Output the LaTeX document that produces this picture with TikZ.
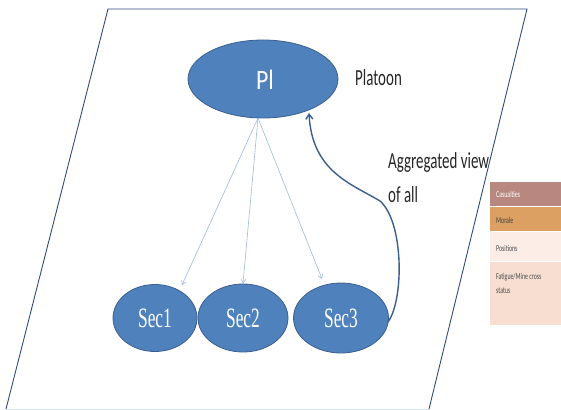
\documentclass[tikz,border=0pt]{standalone}
\usepackage{fontspec}
\setmainfont{Carlito}
\newfontfamily\condsans[FakeStretch=0.65]{Carlito}
\newfontfamily\plsans[FakeStretch=0.85]{Carlito}
\newfontfamily\condserif[FakeStretch=0.62]{Liberation Serif}
\usetikzlibrary{arrows.meta,shapes.geometric}
\definecolor{ellblue}{HTML}{4F81BD}
\definecolor{ellline}{HTML}{3A5F8E}
\definecolor{frameline}{HTML}{2F4B7C}
\definecolor{thin}{HTML}{9DB8DA}
\definecolor{cas}{HTML}{B8877F}
\definecolor{mor}{HTML}{DDA063}
\definecolor{pos}{HTML}{FCEEE6}
\definecolor{fat}{HTML}{F7DED1}
\begin{document}
\begin{tikzpicture}[x=1pt,y=-1pt,
  ell/.style={ellipse, fill=ellblue, draw=ellline, line width=0.8pt, text=white, inner sep=0pt},
  secfont/.style={font=\condserif\fontsize{28}{30}\selectfont},
  thinarrow/.style={draw=thin, line width=0.6pt, -{Straight Barb[length=4pt,width=5pt]}},
  lbl/.style={font=\condsans\fontsize{23}{34}\selectfont, text=black!85, anchor=base west, align=left, inner sep=0pt},
  legbox/.style={minimum width=71pt, anchor=north west, inner sep=0pt},
  legtext/.style={font=\condsans\fontsize{9}{14}\selectfont, anchor=base west, align=left, inner sep=0pt}
]
\useasboundingbox (0,0) rectangle (561,409);
% frame parallelogram
\coordinate (tl) at (108,9);
\coordinate (tr) at (527,9);
\coordinate (br) at (429,409);
\coordinate (bl) at (6,409);
\draw[frameline, line width=0.9pt] (bl) -- (tl) -- (tr) -- (br);
\draw[thin!40, line width=0.6pt] (bl) -- (br);
% nodes
\node[ell, minimum width=150pt, minimum height=78pt] (pl) at (263,79) {};
\node[font=\plsans\fontsize{28}{30}\selectfont, text=white, inner sep=0pt] (pltext) at (265,80) {Pl};
\node[ell, minimum width=84pt, minimum height=67pt, secfont] (s1) at (155,318) {Sec1};
\node[ell, minimum width=90pt, minimum height=68pt, secfont] (s2) at (243,318) {Sec2};
\node[ell, minimum width=95pt, minimum height=70pt, secfont] (s3) at (341,318) {Sec3};
% thin arrows
\coordinate (o) at (258,118);
\coordinate (t3) at (322,279);
\draw[thinarrow] (o) -- (182,285);
\draw[thinarrow] (o) -- (s2.north);
\draw[thinarrow] (o) -- (t3);
% curved arrow
\coordinate (c1) at (388,322);
\draw[ellline, line width=1.4pt, -{Straight Barb[length=5pt,width=7pt]}]
  (c1) .. controls (404,300) and (404,222) .. (380,201)
  .. controls (352,184) and (312,172) .. (309,113);
% labels
\node[lbl] (plat) at (355,85) {Platoon};
\node[lbl] (agg) at (388,202) {Aggregated view\\of all};
% legend
\node[legbox, fill=cas, minimum height=24pt] (l1) at (490,182) {};
\node[legbox, fill=mor, minimum height=24pt] (l2) at (490,207) {};
\node[legbox, fill=pos, minimum height=29pt] (l3) at (490,232) {};
\node[legbox, fill=fat, minimum height=63pt] (l4) at (490,262) {};
\node[legtext, text=white] (l1t) at (496,197) {Casualties};
\node[legtext, text=black!75] (l2t) at (496,223) {Morale};
\node[legtext, text=black!70] (l3t) at (496,251) {Positions};
\node[legtext, text=black!70] (l4t) at (496,293) {Fatigue/Mine cross\\status};
\end{tikzpicture}
\end{document}
